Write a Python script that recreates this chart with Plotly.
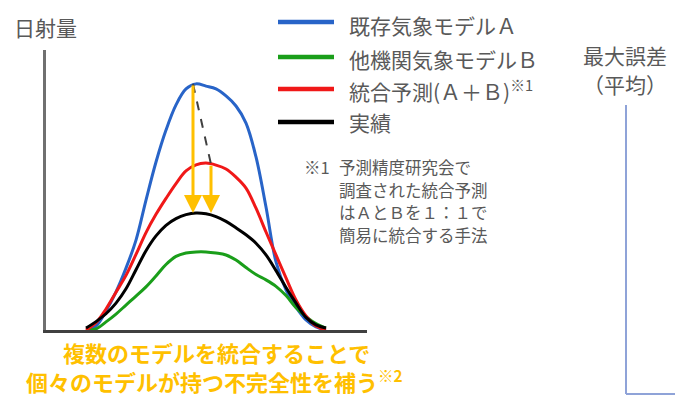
import plotly.graph_objects as go

# Time of day (hours) shared by all series
hours = [6.0, 6.5, 7.0, 7.5, 8.0, 8.5, 9.0, 9.5, 10.0, 10.5, 11.0, 11.5, 12.0,
         12.5, 13.0, 13.5, 14.0, 14.5, 15.0, 15.5, 16.0, 16.5, 17.0, 17.5, 18.0]

# Solar irradiance (relative units)
model_a = [0.0, 1.4, 6.8, 13.6, 22.1, 32.1, 46.4, 60.0, 71.4, 80.4, 86.1, 87.9, 87.1,
           86.1, 83.6, 80.0, 73.9, 61.8, 43.9, 24.3, 14.3, 8.2, 3.6, 1.1, 0.0]
model_b = [0.0, 0.4, 2.9, 5.7, 8.9, 12.1, 15.4, 19.3, 23.4, 26.3, 27.5, 27.9, 27.9,
           27.5, 26.8, 25.0, 22.3, 19.8, 17.9, 15.6, 12.3, 8.0, 4.8, 2.3, 0.7]
combined = [0.0, 2.6, 7.5, 13.5, 19.5, 27.0, 34.8, 41.3, 47.0, 52.3, 56.8, 59.0, 59.6,
            58.9, 57.5, 54.6, 50.7, 43.5, 35.0, 26.8, 18.6, 10.7, 5.0, 1.4, 0.0]
actual = [0.7, 3.0, 5.8, 9.6, 14.7, 21.5, 28.3, 33.6, 37.4, 39.8, 41.2, 41.8, 41.5,
          40.5, 38.8, 36.5, 34.0, 31.0, 26.8, 21.2, 15.2, 9.6, 4.5, 1.8, 0.7]

# Error arrows: forecast value -> actual value at the given hour
arrow_hours = [11.35, 12.25]
arrow_from = [87.9, 59.2]
arrow_to = [41.8, 41.8]

legend_labels = ["既存気象モデルＡ", "他機関気象モデルＢ", "統合予測(Ａ＋Ｂ)<sup>※1</sup>", "実績"]
note_lines = ["予測精度研究会で", "調査された統合予測", "はＡとＢを１：１で", "簡易に統合する手法"]

W, H = 675, 398
FONT = "Noto Sans CJK JP"
GRAY = "#595959"
ORANGE = "#FFC000"
colors = ["#2864C8", "#1A9E1A", "#F01818", "#000000"]


def px(x):
    return x / W


def py(y):
    return 1 - y / H


fig = go.Figure()

for vals, col in zip([model_a, model_b, combined, actual], colors):
    fig.add_trace(go.Scatter(
        x=hours, y=vals, mode="lines",
        line=dict(color=col, width=3, shape="spline", smoothing=1),
        hoverinfo="skip", showlegend=False))

# dashed link between the two forecast start points
fig.add_trace(go.Scatter(
    x=arrow_hours, y=arrow_from, mode="lines",
    line=dict(color="#404040", width=2, dash="dash"),
    hoverinfo="skip", showlegend=False))

annotations = []
for h, a, b in zip(arrow_hours, arrow_from, arrow_to):
    annotations.append(dict(
        x=h, y=b, ax=h, ay=a, xref="x", yref="y", axref="x", ayref="y",
        text="", showarrow=True, arrowhead=2, arrowsize=1.2, arrowwidth=3,
        arrowcolor=ORANGE, standoff=0))

shapes = []
legend_y = [22, 57, 89, 122]
text_y = [25, 59, 90, 122]
for col, ly, ty, lab in zip(colors, legend_y, text_y, legend_labels):
    shapes.append(dict(type="line", xref="paper", yref="paper",
                       x0=px(278), x1=px(334), y0=py(ly), y1=py(ly),
                       line=dict(color=col, width=4.5)))
    annotations.append(dict(x=px(347), y=py(ty), xref="paper", yref="paper",
                            xanchor="left", yanchor="middle", showarrow=False,
                            text=lab, font=dict(family=FONT, size=21, color=GRAY)))

# axis title
annotations.append(dict(x=px(12), y=py(27), xref="paper", yref="paper",
                        xanchor="left", yanchor="middle", showarrow=False,
                        text="日射量", font=dict(family=FONT, size=21, color=GRAY)))

# footnote
annotations.append(dict(x=px(302), y=py(167), xref="paper", yref="paper",
                        xanchor="left", yanchor="middle", showarrow=False,
                        text="※1", font=dict(family=FONT, size=16.5, color=GRAY)))
for i, line in enumerate(note_lines):
    annotations.append(dict(x=px(337), y=py(167 + 22.7 * i), xref="paper", yref="paper",
                            xanchor="left", yanchor="middle", showarrow=False,
                            text=line, font=dict(family=FONT, size=16.5, color=GRAY)))

# message under the chart
annotations.append(dict(x=px(216), y=py(352), xref="paper", yref="paper",
                        xanchor="center", yanchor="middle", showarrow=False,
                        text="<b>複数のモデルを統合することで</b>",
                        font=dict(family=FONT, size=22, color=ORANGE)))
annotations.append(dict(x=px(214), y=py(380), xref="paper", yref="paper",
                        xanchor="center", yanchor="middle", showarrow=False,
                        text="<b>個々のモデルが持つ不完全性を補う<sup>※2</sup></b>",
                        font=dict(family=FONT, size=22, color=ORANGE)))

# neighbouring panel: maximum error
annotations.append(dict(x=px(625), y=py(55), xref="paper", yref="paper",
                        xanchor="center", yanchor="middle", showarrow=False,
                        text="最大誤差", font=dict(family=FONT, size=21, color=GRAY)))
annotations.append(dict(x=px(625), y=py(84), xref="paper", yref="paper",
                        xanchor="center", yanchor="middle", showarrow=False,
                        text="（平均）", font=dict(family=FONT, size=21, color=GRAY)))
shapes.append(dict(type="line", xref="paper", yref="paper",
                   x0=px(626), x1=px(626), y0=py(105), y1=py(394),
                   line=dict(color="#8FA3D8", width=2)))
shapes.append(dict(type="line", xref="paper", yref="paper",
                   x0=px(626), x1=px(676), y0=py(394), y1=py(394),
                   line=dict(color="#8FA3D8", width=2)))

fig.update_layout(
    width=W, height=H,
    margin=dict(l=0, r=0, t=0, b=0),
    paper_bgcolor="white", plot_bgcolor="white",
    showlegend=False,
    xaxis=dict(domain=[px(46), px(367)], range=[4, 20.05],
               showline=True, linecolor="#404040", linewidth=2.5,
               showticklabels=False, ticks="", showgrid=False, zeroline=False),
    yaxis=dict(domain=[py(330), py(50)], range=[0, 100],
               showline=True, linecolor="#707070", linewidth=2.5,
               showticklabels=False, ticks="", showgrid=False, zeroline=False),
    annotations=annotations,
    shapes=shapes,
)

fig.write_html("out.html")
